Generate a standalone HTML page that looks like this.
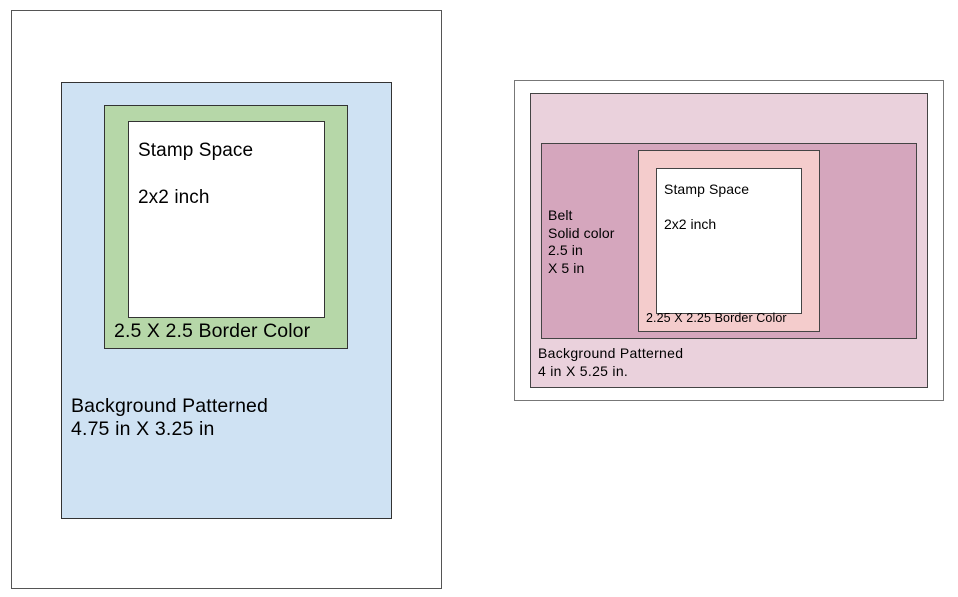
<!DOCTYPE html>
<html><head><style>
body{margin:0;width:958px;height:597px;background:#fff;position:relative;font-family:"Liberation Sans",Arial,sans-serif;overflow:hidden}
div{position:absolute;box-sizing:border-box}
.t{white-space:nowrap;color:#000}
</style></head><body>
<div style="left:11px;top:10px;width:431px;height:579px;border:1px solid #555"></div>
<div style="left:61px;top:82px;width:331px;height:437px;border:1px solid #333;background:#cfe2f3"></div>
<div style="left:104px;top:105px;width:244px;height:244px;border:1px solid #333;background:#b6d7a8"></div>
<div style="left:128px;top:121px;width:197px;height:197px;border:1px solid #333;background:#fff"></div>
<div class="t" style="left:138px;top:140px;font-size:19px;letter-spacing:0.1px">Stamp Space</div>
<div class="t" style="left:138px;top:187px;font-size:19px;letter-spacing:0.1px">2x2 inch</div>
<div class="t" style="left:114px;top:320px;font-size:19.5px;letter-spacing:0.1px">2.5 X 2.5 Border Color</div>
<div class="t" style="left:71px;top:395px;font-size:19.5px;line-height:23px;letter-spacing:0.15px">Background Patterned<br>4.75 in X 3.25 in</div>

<div style="left:514px;top:80px;width:430px;height:321px;border:1px solid #777"></div>
<div style="left:530px;top:93px;width:398px;height:295px;border:1px solid #444;background:#ead1dc"></div>
<div style="left:541px;top:143px;width:376px;height:196px;border:1px solid #444;background:#d5a6bd"></div>
<div style="left:638px;top:150px;width:182px;height:182px;border:1px solid #444;background:#f4cccc"></div>
<div style="left:656px;top:168px;width:146px;height:146px;border:1px solid #444;background:#fff"></div>
<div class="t" style="left:664px;top:181px;font-size:14px;letter-spacing:0.1px">Stamp Space</div>
<div class="t" style="left:664px;top:216px;font-size:14px">2x2 inch</div>
<div class="t" style="left:548px;top:207px;font-size:14px;line-height:17.5px;letter-spacing:0.1px">Belt<br>Solid color<br>2.5 in<br>X 5 in</div>
<div class="t" style="left:646px;top:311px;font-size:12.5px;letter-spacing:0.1px">2.25 X 2.25 Border Color</div>
<div class="t" style="left:538px;top:345px;font-size:14px;line-height:17.5px;letter-spacing:0.3px">Background Patterned<br>4 in X 5.25 in.</div>
</body></html>
